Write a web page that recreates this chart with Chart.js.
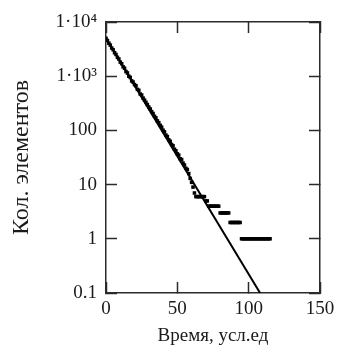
<!DOCTYPE html>
<html>
<head>
<meta charset="utf-8">
<script src="https://cdn.jsdelivr.net/npm/chart.js@4.4.1/dist/chart.umd.min.js"></script>
<style>
  html, body { margin: 0; padding: 0; background: #fff; }
  #wrap { width: 338px; height: 351px; }
</style>
</head>
<body>
<div id="wrap"><canvas id="decayChart"></canvas></div>
<script>
// simulated counts, one point per time step
const times = [
  0, 1, 2, 3, 4, 5, 6, 7, 8, 9, 10, 11, 12, 13, 14, 15, 16, 17, 18, 19,
  20, 21, 22, 23, 24, 25, 26, 27, 28, 29, 30, 31, 32, 33, 34, 35, 36, 37, 38, 39,
  40, 41, 42, 43, 44, 45, 46, 47, 48, 49, 50, 51, 52, 53, 54, 55, 56, 57, 58, 59,
  60, 61, 62, 63, 64, 65, 66, 67, 68, 69, 70, 71, 72, 73, 74, 75, 76, 77, 78, 79,
  80, 81, 82, 83, 84, 85, 86, 87, 88, 89, 90, 91, 92, 93, 94, 95, 96, 97, 98, 99,
  100, 101, 102, 103, 104, 105, 106, 107, 108, 109, 110, 111, 112, 113, 114, 115
];
const counts = [
  5000, 4560, 4060, 3750, 3310, 3080, 2710, 2520, 2230, 2080, 1820, 1700, 1490, 1400, 1220, 1150, 1000, 950, 820, 780,
  700, 665, 572, 550, 470, 450, 395, 362, 330, 300, 270, 248, 222, 205, 182, 170, 150, 139, 124, 115,
  101, 94, 82, 77, 67, 63, 55, 52, 45, 42, 37, 35, 30, 29, 25, 23, 20, 19, 16, 13,
  11, 9, 7, 6, 6, 6, 6, 6, 6, 6, 5, 5, 4, 4, 4, 4, 4, 4, 4, 4,
  3, 3, 3, 3, 3, 3, 3, 2, 2, 2, 2, 2, 2, 2, 2, 1, 1, 1, 1, 1,
  1, 1, 1, 1, 1, 1, 1, 1, 1, 1, 1, 1, 1, 1, 1, 1
];

// fitted exponential (straight on the log axis)
const fitTimes = [0, 108];
const fitCounts = [5000, 0.1];

const xTicks = [0, 50, 100, 150];
const yTicks = [0.1, 1, 10, 100, 1000, 10000];
const yTickLabels = ['0.1', '1', '10', '100', '1·10³', '1·10⁴'];

const serif = "'Liberation Serif', 'Times New Roman', serif";
const textColor = '#1a1a1a';
const axisColor = '#2b2b2b';

const toPoints = (xs, ys) => xs.map((x, i) => ({ x: x, y: ys[i] }));

// keep the plot box where the reference has it: no extra room for edge labels
const noEdgePadding = s => {
  s.paddingLeft = 0;
  s.paddingRight = 0;
  s.paddingTop = 0;
  s.paddingBottom = 0;
};

// inward tick marks on every side, no grid inside the plot
const frameGrid = { drawOnChartArea: false, tickLength: -11, tickWidth: 1.5, tickColor: axisColor };
const frameBorder = { color: axisColor, width: 1.5 };

const ctx = document.getElementById('decayChart').getContext('2d');

new Chart(ctx, {
  type: 'scatter',
  data: {
    datasets: [
      {
        label: 'fit',
        data: toPoints(fitTimes, fitCounts),
        showLine: true,
        borderColor: '#000',
        borderWidth: 2,
        pointRadius: 0,
        fill: false
      },
      {
        label: 'counts',
        data: toPoints(times, counts),
        showLine: false,
        pointStyle: 'rect',
        pointRadius: 2.5,
        backgroundColor: '#000',
        borderColor: '#000',
        borderWidth: 0
      }
    ]
  },
  options: {
    responsive: true,
    maintainAspectRatio: false,
    animation: false,
    layout: { padding: { top: 22, right: 18, left: 0, bottom: 0 } },
    plugins: {
      legend: { display: false },
      tooltip: { enabled: false }
    },
    scales: {
      x: {
        type: 'linear',
        position: 'bottom',
        min: 0,
        max: 150,
        afterBuildTicks: s => { s.ticks = xTicks.map(v => ({ value: v })); },
        afterFit: s => { s.height = 58; noEdgePadding(s); },
        grid: frameGrid,
        border: frameBorder,
        ticks: { autoSkip: false, maxRotation: 0, padding: 16, color: textColor, font: { family: serif, size: 19 } },
        title: { display: true, text: 'Время, усл.ед', color: textColor, font: { family: serif, size: 19 }, padding: { top: 0, bottom: 4 } }
      },
      x2: {
        type: 'linear',
        position: 'top',
        min: 0,
        max: 150,
        afterBuildTicks: s => { s.ticks = xTicks.map(v => ({ value: v })); },
        afterFit: s => { s.height = 0; noEdgePadding(s); },
        grid: frameGrid,
        border: frameBorder,
        ticks: { display: false }
      },
      y: {
        type: 'logarithmic',
        position: 'left',
        min: 0.1,
        max: 10000,
        afterBuildTicks: s => { s.ticks = yTicks.map(v => ({ value: v })); },
        afterFit: s => { s.width = 106; noEdgePadding(s); },
        grid: frameGrid,
        border: frameBorder,
        ticks: {
          autoSkip: false,
          padding: 20,
          color: textColor,
          font: { family: serif, size: 19 },
          callback: (value, index) => yTickLabels[index]
        },
        title: { display: true, text: 'Кол. элементов', color: textColor, font: { family: serif, size: 24 }, padding: { top: 7, bottom: 0 } }
      },
      y2: {
        type: 'logarithmic',
        position: 'right',
        min: 0.1,
        max: 10000,
        afterBuildTicks: s => { s.ticks = yTicks.map(v => ({ value: v })); },
        afterFit: s => { s.width = 0; noEdgePadding(s); },
        grid: frameGrid,
        border: frameBorder,
        ticks: { display: false }
      }
    }
  }
});
</script>
</body>
</html>
